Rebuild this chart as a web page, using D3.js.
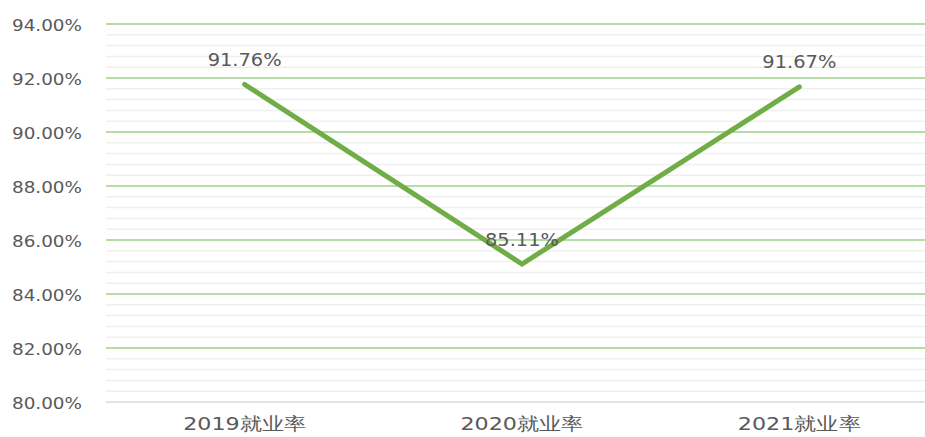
<!DOCTYPE html>
<html>
<head>
<meta charset="utf-8">
<script src="https://cdn.jsdelivr.net/npm/d3@7"></script>
<style>
    body { margin: 0; background: #fff; }
    text { font-family: "DejaVu Sans", sans-serif; fill: #595959; }
</style>
</head>
<body>
<svg id="chart" width="925" height="437"></svg>
<script>
    // data
    var categories = ["2019就业率", "2020就业率", "2021就业率"],
        rates = [91.76, 85.11, 91.67],
        yTicks = [80, 82, 84, 86, 88, 90, 92, 94];

    var svg = d3.select("#chart"),
        plotLeft = 106, plotRight = 938, plotTop = 24, plotBottom = 402;

    var x = d3.scaleBand().domain(categories).range([plotLeft, plotRight]),
        y = d3.scaleLinear().domain([80, 94]).range([plotBottom, plotTop]);

    // minor grid every 0.4%
    var minor = d3.range(80.4, 94, 0.4).filter(function (v) {
        return Math.abs(v / 2 - Math.round(v / 2)) > 0.01;
    });
    svg.append("g").selectAll("line").data(minor).join("line")
        .attr("x1", plotLeft).attr("x2", 925)
        .attr("y1", function (d) { return y(d); })
        .attr("y2", function (d) { return y(d); })
        .attr("stroke", "#efefef").attr("stroke-width", 1.5);

    // major grid
    svg.append("g").selectAll("line").data(yTicks.slice(1)).join("line")
        .attr("x1", plotLeft).attr("x2", 925)
        .attr("y1", function (d) { return y(d); })
        .attr("y2", function (d) { return y(d); })
        .attr("stroke", "#9ed08a").attr("stroke-width", 1.5);

    // baseline
    svg.append("line")
        .attr("x1", plotLeft).attr("x2", 925)
        .attr("y1", y(80)).attr("y2", y(80))
        .attr("stroke", "#d9d9d9").attr("stroke-width", 1.5);

    // y labels
    svg.append("g").selectAll("text").data(yTicks).join("text")
        .attr("x", 82)
        .attr("y", function (d) { return y(d) + 6.5; })
        .attr("text-anchor", "end")
        .attr("font-size", 16.5)
        .attr("textLength", 70)
        .attr("lengthAdjust", "spacingAndGlyphs")
        .text(function (d) { return d.toFixed(2) + "%"; });

    // x labels
    svg.append("g").selectAll("text").data(categories).join("text")
        .attr("x", function (d) { return x(d) + x.bandwidth() / 2; })
        .attr("y", 430)
        .attr("text-anchor", "middle")
        .attr("font-size", 18)
        .attr("textLength", 123)
        .attr("lengthAdjust", "spacingAndGlyphs")
        .text(function (d) { return d; });

    var pts = categories.map(function (c, i) {
        return [x(c) + x.bandwidth() / 2, y(rates[i])];
    });

    svg.append("path")
        .attr("d", d3.line()(pts))
        .attr("fill", "none")
        .attr("stroke", "#70ad47")
        .attr("stroke-width", 5)
        .attr("stroke-linecap", "round")
        .attr("stroke-linejoin", "miter");

    // value labels
    svg.append("g").selectAll("text").data(rates).join("text")
        .attr("x", function (d, i) { return pts[i][0]; })
        .attr("y", function (d, i) { return pts[i][1] - 18.5; })
        .attr("text-anchor", "middle")
        .attr("font-size", 17)
        .attr("textLength", 74)
        .attr("lengthAdjust", "spacingAndGlyphs")
        .text(function (d) { return d.toFixed(2) + "%"; });
</script>
</body>
</html>
